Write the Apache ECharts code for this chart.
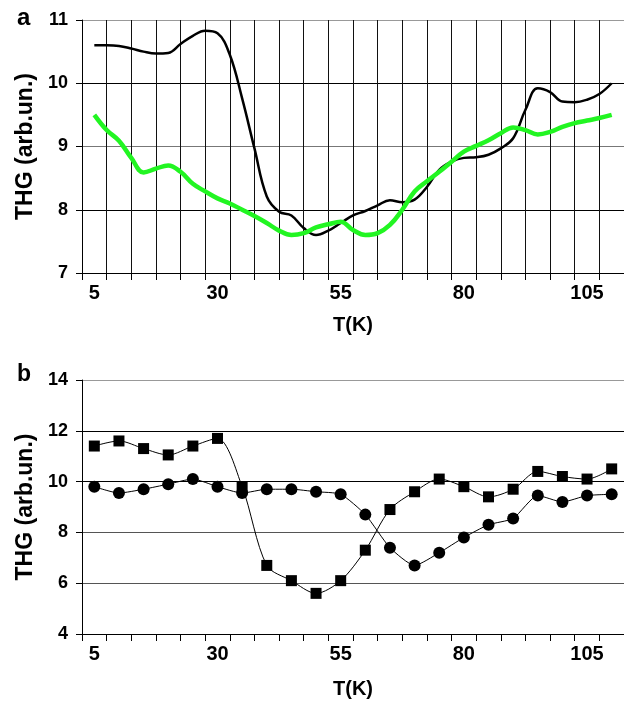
<!DOCTYPE html>
<html>
<head>
<meta charset="utf-8">
<title>THG vs T</title>
<script src="https://cdn.jsdelivr.net/npm/echarts@6/dist/echarts.min.js"></script>
<style>
  html, body { margin: 0; padding: 0; background: #fff; }
  #chart { width: 624px; height: 703px; }
</style>
</head>
<body>
<div id="chart"></div>
<script>
// categories (K) shared by both panels
const temps = [5, 10, 15, 20, 25, 30, 35, 40, 45, 50, 55, 60, 65, 70, 75, 80, 85, 90, 95, 100, 105, 110]

// panel a: curves read every 2.5 K
const tA = [5, 7.5, 10, 12.5, 15, 17.5, 20, 22.5, 25, 27.5, 30, 32.5, 35, 37.5, 40, 42.5, 45, 47.5, 50, 52.5,
  55, 57.5, 60, 62.5, 65, 67.5, 70, 72.5, 75, 77.5, 80, 82.5, 85, 87.5, 90, 92.5, 95, 97.5, 100, 102.5, 105, 107.5, 110]
const blackA = [10.6, 10.6, 10.59, 10.55, 10.5, 10.47, 10.48, 10.62, 10.75, 10.83, 10.79, 10.45, 9.76, 8.97, 8.21, 7.97, 7.91, 7.71, 7.6, 7.67,
  7.79, 7.91, 7.98, 8.07, 8.15, 8.12, 8.16, 8.36, 8.63, 8.76, 8.82, 8.83, 8.87, 8.97, 9.13, 9.58, 9.92, 9.86, 9.71, 9.7, 9.74, 9.83, 10.0]
const greenA = [9.5, 9.26, 9.09, 8.82, 8.59, 8.65, 8.7, 8.6, 8.41, 8.29, 8.18, 8.1, 8.0, 7.9, 7.79, 7.67, 7.6, 7.63, 7.72, 7.77,
  7.81, 7.68, 7.6, 7.63, 7.76, 8.0, 8.29, 8.45, 8.6, 8.76, 8.92, 9.01, 9.1, 9.21, 9.3, 9.26, 9.19, 9.23, 9.31, 9.37, 9.41, 9.45, 9.5]

// panel b: markers
const squaresB = [11.4, 11.6, 11.3, 11.05, 11.4, 11.7, 9.8, 6.7, 6.1, 5.6, 6.1, 7.3, 8.9, 9.6, 10.1, 9.8, 9.4, 9.7, 10.4, 10.2, 10.1, 10.5]
const circlesB = [9.8, 9.55, 9.7, 9.9, 10.1, 9.8, 9.55, 9.7, 9.7, 9.6, 9.5, 8.7, 7.4, 6.7, 7.2, 7.8, 8.3, 8.55, 9.45, 9.2, 9.45, 9.5]

const FONT = 'Liberation Sans, Arial, sans-serif'

const catAxis = (gridIndex, grid, nameGap) => ({
  type: 'category',
  gridIndex,
  data: temps.map(String),
  boundaryGap: true,
  axisLine: { show: true, lineStyle: { color: '#000', width: 1 } },
  axisTick: { show: true, interval: 0, length: 7, lineStyle: { color: '#000' } },
  axisLabel: { interval: 4, margin: 10, color: '#000', fontFamily: FONT, fontWeight: 'bold', fontSize: 20 },
  splitLine: { show: grid, interval: 0, lineStyle: { color: '#111', width: 1 } },
  name: 'T(K)',
  nameLocation: 'middle',
  nameGap,
  nameTextStyle: { color: '#000', fontFamily: FONT, fontWeight: 'bold', fontSize: 20 },
})

const valAxis = (gridIndex, min, max, interval, lineColors) => ({
  type: 'value',
  gridIndex,
  min,
  max,
  interval,
  axisLine: { show: true, lineStyle: { color: '#000', width: 1 } },
  axisTick: { show: true, length: 6, lineStyle: { color: '#000' } },
  axisLabel: { margin: 14, color: '#000', fontFamily: FONT, fontWeight: 'bold', fontSize: 18 },
  splitLine: { show: true, lineStyle: { color: lineColors, width: 1 } },
  name: 'THG (arb.un.)',
  nameLocation: 'middle',
  nameGap: 45,
  nameTextStyle: { color: '#000', fontFamily: FONT, fontWeight: 'bold', fontSize: 23 },
})

const chart = echarts.init(document.getElementById('chart'))

const option = {
  animation: false,
  backgroundColor: '#fff',
  grid: [
    { left: 82, top: 20, width: 542, height: 253 },
    { left: 82, top: 380, width: 542, height: 254 },
  ],
  xAxis: [
    catAxis(0, true, 42),
    // hidden continuous axis so panel a curves sit at their temperatures
    { type: 'value', gridIndex: 0, min: 2.5, max: 112.5, show: false },
    catAxis(1, false, 45),
  ],
  yAxis: [
    valAxis(0, 7, 11, 1, ['#000', '#000', '#777', '#000', '#999']),
    valAxis(1, 4, 14, 2, ['#000', '#555', '#555', '#000', '#000', '#999']),
  ],
  graphic: [
    { type: 'text', left: 17, top: 6, style: { text: 'a', fill: '#000', font: 'bold 24px ' + FONT } },
    { type: 'text', left: 17, top: 363, style: { text: 'b', fill: '#000', font: 'bold 23px ' + FONT } },
  ],
  series: [
    {
      type: 'line',
      xAxisIndex: 1,
      yAxisIndex: 0,
      data: tA.map((t, i) => [t, blackA[i]]),
      smooth: 0.4,
      showSymbol: false,
      lineStyle: { color: '#000', width: 2.5 },
      z: 3,
    },
    {
      type: 'line',
      xAxisIndex: 1,
      yAxisIndex: 0,
      data: tA.map((t, i) => [t, greenA[i]]),
      smooth: 0.4,
      showSymbol: false,
      lineStyle: { color: '#22f522', width: 4.5 },
      z: 4,
    },
    {
      type: 'line',
      xAxisIndex: 2,
      yAxisIndex: 1,
      data: squaresB,
      smooth: 0.3,
      symbol: 'rect',
      symbolSize: 11,
      itemStyle: { color: '#000' },
      lineStyle: { color: '#000', width: 1 },
    },
    {
      type: 'line',
      xAxisIndex: 2,
      yAxisIndex: 1,
      data: circlesB,
      smooth: 0.2,
      symbol: 'circle',
      symbolSize: 12,
      itemStyle: { color: '#000' },
      lineStyle: { color: '#000', width: 1 },
    },
  ],
}

chart.setOption(option)
</script>
</body>
</html>
